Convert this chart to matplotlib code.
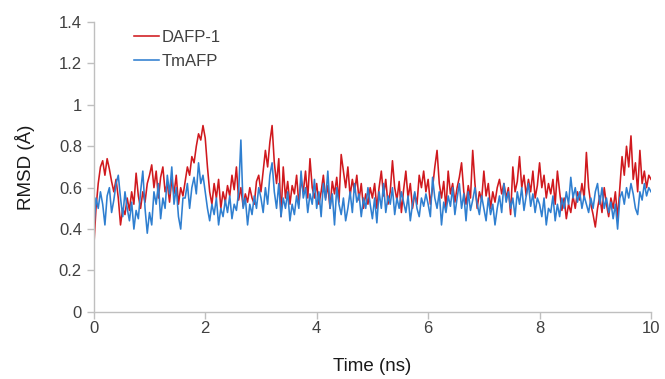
import numpy as np
import matplotlib
matplotlib.use('Agg')
import matplotlib.pyplot as plt

# RMSD, one value every 0.04 ns (25 per ns)
dafp1 = [
    0.31, 0.50, 0.62, 0.70, 0.73, 0.66, 0.74, 0.69, 0.63, 0.58, 0.64, 0.55, 0.42, 0.50, 0.47, 0.55, 0.49, 0.58, 0.52, 0.67, 0.56, 0.50, 0.58, 0.53, 0.62,
    0.66, 0.71, 0.60, 0.68, 0.55, 0.65, 0.70, 0.58, 0.62, 0.53, 0.64, 0.57, 0.66, 0.52, 0.60, 0.56, 0.63, 0.70, 0.66, 0.75, 0.72, 0.80, 0.86, 0.83, 0.90,
    0.84, 0.70, 0.58, 0.52, 0.62, 0.55, 0.64, 0.50, 0.58, 0.53, 0.61, 0.56, 0.66, 0.59, 0.70, 0.54, 0.60, 0.51, 0.57, 0.53, 0.60, 0.55, 0.52, 0.63, 0.66,
    0.58, 0.68, 0.78, 0.70, 0.82, 0.90, 0.72, 0.62, 0.74, 0.46, 0.70, 0.55, 0.63, 0.52, 0.61, 0.57, 0.66, 0.52, 0.64, 0.58, 0.68, 0.55, 0.74, 0.60, 0.55,
    0.62, 0.52, 0.58, 0.66, 0.55, 0.61, 0.50, 0.63, 0.57, 0.65, 0.53, 0.76, 0.68, 0.60, 0.70, 0.56, 0.64, 0.58, 0.66, 0.54, 0.62, 0.50, 0.57, 0.52, 0.60,
    0.55, 0.62, 0.50, 0.60, 0.68, 0.56, 0.64, 0.52, 0.58, 0.73, 0.60, 0.54, 0.63, 0.48, 0.59, 0.68, 0.55, 0.62, 0.50, 0.57, 0.52, 0.66, 0.60, 0.68, 0.58,
    0.64, 0.52, 0.60, 0.70, 0.78, 0.62, 0.55, 0.63, 0.50, 0.68, 0.57, 0.62, 0.53, 0.60, 0.65, 0.72, 0.58, 0.52, 0.61, 0.55, 0.78, 0.62, 0.50, 0.58, 0.54,
    0.68, 0.56, 0.62, 0.50, 0.58, 0.53, 0.60, 0.64, 0.57, 0.62, 0.55, 0.60, 0.47, 0.70, 0.58, 0.63, 0.75, 0.60, 0.66, 0.56, 0.64, 0.58, 0.68, 0.55, 0.61,
    0.72, 0.60, 0.66, 0.55, 0.62, 0.57, 0.64, 0.52, 0.68, 0.58, 0.49, 0.55, 0.45, 0.52, 0.48, 0.56, 0.50, 0.58, 0.54, 0.62, 0.55, 0.77, 0.60, 0.52, 0.47,
    0.41, 0.50, 0.56, 0.48, 0.60, 0.52, 0.46, 0.55, 0.50, 0.58, 0.45, 0.60, 0.75, 0.66, 0.80, 0.70, 0.85, 0.64, 0.72, 0.58, 0.78, 0.62, 0.68, 0.60, 0.66,
    0.64,
]

tmafp = [
    0.40, 0.55, 0.50, 0.58, 0.52, 0.42, 0.56, 0.60, 0.48, 0.54, 0.62, 0.66, 0.55, 0.46, 0.58, 0.50, 0.44, 0.53, 0.40, 0.49, 0.45, 0.58, 0.68, 0.50, 0.38,
    0.48, 0.42, 0.58, 0.52, 0.62, 0.45, 0.55, 0.50, 0.66, 0.57, 0.70, 0.52, 0.60, 0.46, 0.40, 0.55, 0.55, 0.62, 0.50, 0.60, 0.65, 0.57, 0.72, 0.62, 0.66,
    0.58, 0.50, 0.44, 0.52, 0.47, 0.55, 0.42, 0.50, 0.46, 0.54, 0.48, 0.56, 0.45, 0.52, 0.49, 0.58, 0.83, 0.50, 0.55, 0.42, 0.52, 0.47, 0.56, 0.50, 0.60,
    0.55, 0.48, 0.60, 0.52, 0.66, 0.72, 0.58, 0.50, 0.62, 0.46, 0.55, 0.50, 0.58, 0.44, 0.52, 0.47, 0.56, 0.50, 0.68, 0.55, 0.60, 0.48, 0.57, 0.52, 0.64,
    0.50, 0.58, 0.46, 0.62, 0.54, 0.68, 0.50, 0.57, 0.42, 0.60, 0.52, 0.47, 0.55, 0.44, 0.50, 0.58, 0.48, 0.62, 0.53, 0.57, 0.46, 0.55, 0.50, 0.60, 0.52,
    0.45, 0.55, 0.43, 0.58, 0.50, 0.62, 0.48, 0.56, 0.52, 0.60, 0.47, 0.55, 0.50, 0.58, 0.53, 0.48, 0.56, 0.44, 0.52, 0.58, 0.50, 0.46, 0.55, 0.51, 0.57,
    0.52, 0.46, 0.65, 0.55, 0.50, 0.58, 0.42, 0.53, 0.48, 0.56, 0.51, 0.60, 0.47, 0.55, 0.62, 0.50, 0.57, 0.44, 0.58, 0.49, 0.54, 0.60, 0.52, 0.47, 0.56,
    0.50, 0.44, 0.55, 0.47, 0.52, 0.42, 0.50, 0.56, 0.48, 0.62, 0.53, 0.58, 0.50, 0.55, 0.46, 0.58, 0.52, 0.60, 0.49, 0.56, 0.62, 0.51, 0.57, 0.48, 0.55,
    0.52, 0.46, 0.55, 0.42, 0.50, 0.48, 0.56, 0.44, 0.52, 0.46, 0.55, 0.50, 0.58, 0.52, 0.65, 0.55, 0.60, 0.53, 0.58, 0.50, 0.56, 0.52, 0.48, 0.55, 0.50,
    0.58, 0.62, 0.52, 0.60, 0.50, 0.55, 0.48, 0.53, 0.45, 0.52, 0.40, 0.55, 0.58, 0.52, 0.60, 0.55, 0.62, 0.57, 0.50, 0.47, 0.58, 0.54, 0.62, 0.56, 0.60,
    0.58,
]

time_ns = np.linspace(0, 10, len(dafp1))

x_ticks = [0, 2, 4, 6, 8, 10]
y_ticks = [0, 0.2, 0.4, 0.6, 0.8, 1.0, 1.2, 1.4]
y_tick_labels = ['0', '0.2', '0.4', '0.6', '0.8', '1', '1.2', '1.4']

plt.rcParams['font.family'] = ['Liberation Sans', 'DejaVu Sans']

fig = plt.figure(figsize=(6.65, 3.79), dpi=100, facecolor='white')
ax = fig.add_axes([0.141, 0.177, 0.838, 0.765])

ax.plot(time_ns, dafp1, color='#d0191e', lw=1.15, label='DAFP-1')
ax.plot(time_ns, tmafp, color='#2f7fd0', lw=1.15, label='TmAFP')

ax.set_xlim(0, 10)
ax.set_ylim(0, 1.4)
ax.set_xticks(x_ticks)
ax.set_yticks(y_ticks)
ax.set_yticklabels(y_tick_labels)

for side in ('top', 'right'):
    ax.spines[side].set_visible(False)
for side in ('left', 'bottom'):
    ax.spines[side].set_color('#bfbfbf')
    ax.spines[side].set_linewidth(1.0)
ax.tick_params(axis='both', colors='#bfbfbf', length=5, width=1.0,
               labelsize=12, labelcolor='#404040', direction='out')
ax.tick_params(axis='x', pad=1.5)

ax.set_xlabel('Time (ns)', fontsize=13.5, color='#1a1a1a', labelpad=16)
ax.set_ylabel('RMSD (Å)', fontsize=13.5, color='#1a1a1a', labelpad=17)

leg = ax.legend(loc='upper left', bbox_to_anchor=(0.046, 1.025), frameon=False,
                fontsize=12, handlelength=1.45, handletextpad=0.2, labelspacing=0.55)
for t in leg.get_texts():
    t.set_color('#404040')

fig.savefig('out.png', dpi=100, facecolor='white')
